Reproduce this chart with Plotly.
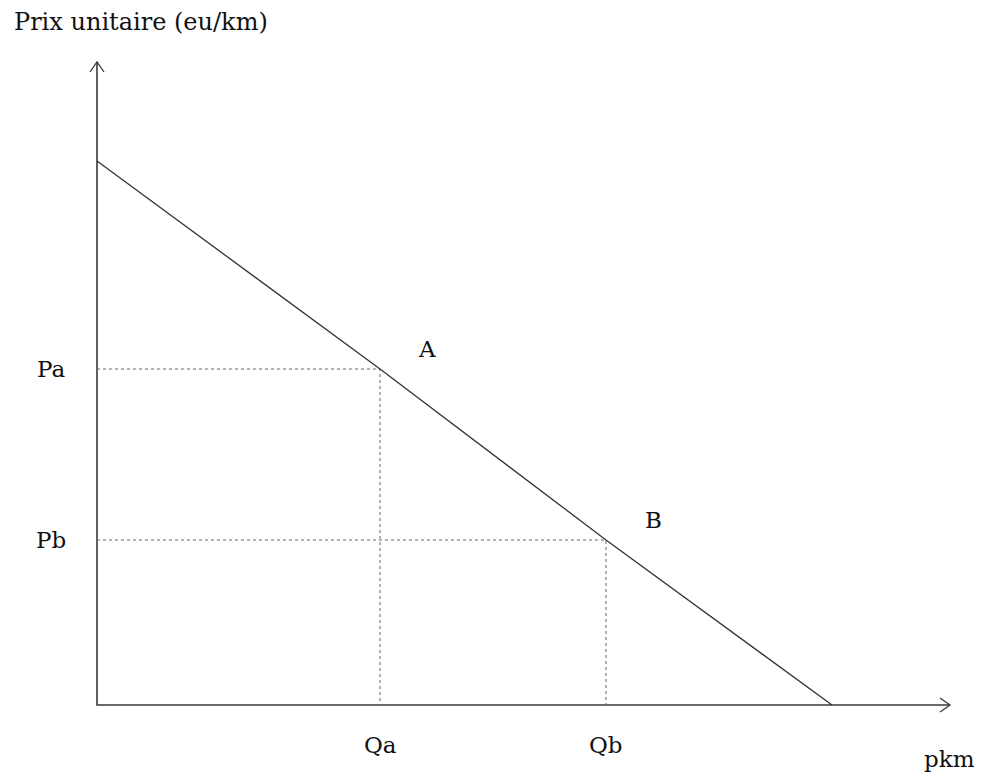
import plotly.graph_objects as go

# demand curve (schematic units: x = pkm, y = unit price)
demand_x = [0, 283, 509, 735]
demand_y = [544, 336, 165, 0]

point_names = ["A", "B"]
point_q = [283, 509]
point_p = [336, 165]
q_labels = ["Qa", "Qb"]
p_labels = ["Pa", "Pb"]

x_axis_end = 853
y_axis_end = 643

FONT = "DejaVu Serif"
AXIS_COLOR = "#3a3a3a"
LINE_COLOR = "#333333"
DOT_COLOR = "#666666"

fig = go.Figure()

# axes
fig.add_trace(go.Scatter(x=[0, 0, x_axis_end], y=[y_axis_end, 0, 0], mode="lines",
                         line=dict(color=AXIS_COLOR, width=1.6), hoverinfo="skip"))
# open arrowheads
ah_w, ah_l = 7, 10
fig.add_trace(go.Scatter(x=[-ah_w, 0, ah_w], y=[y_axis_end - ah_l, y_axis_end, y_axis_end - ah_l],
                         mode="lines", line=dict(color=AXIS_COLOR, width=1.3), hoverinfo="skip"))
fig.add_trace(go.Scatter(x=[x_axis_end - ah_l, x_axis_end, x_axis_end - ah_l], y=[ah_w, 0, -ah_w],
                         mode="lines", line=dict(color=AXIS_COLOR, width=1.3), hoverinfo="skip"))

# dotted guides
for q, p in zip(point_q, point_p):
    fig.add_trace(go.Scatter(x=[0, q, q], y=[p, p, 0], mode="lines",
                             line=dict(color=DOT_COLOR, width=1, dash="dot"), hoverinfo="skip"))

# demand line
fig.add_trace(go.Scatter(x=demand_x, y=demand_y, mode="lines",
                         line=dict(color=LINE_COLOR, width=1.3), hoverinfo="skip"))

txt = dict(showarrow=False, font=dict(family=FONT, size=23, color="#111111"))
for name, q, p, ql, pl in zip(point_names, point_q, point_p, q_labels, p_labels):
    fig.add_annotation(x=q, y=p, text=name, xshift=47, yshift=20, **txt)
    fig.add_annotation(x=0, y=p, text=pl, xshift=-46, **txt)
    fig.add_annotation(x=q, y=0, text=ql, yshift=-40, **txt)

fig.add_annotation(x=x_axis_end, y=0, text="pkm", xshift=-1, yshift=-54, **txt)
fig.add_annotation(x=0, y=y_axis_end, text="Prix unitaire (eu/km)", xshift=44, yshift=40,
                   **{**txt, "font": dict(family=FONT, size=24, color="#111111")})

# page body has an 8px margin, so the figure is sized and placed to compensate
fig.update_layout(
    width=976, height=766,
    margin=dict(l=0, r=0, t=0, b=0),
    plot_bgcolor="white", paper_bgcolor="white",
    showlegend=False,
    xaxis=dict(range=[-89, 887], visible=False, fixedrange=True),
    yaxis=dict(range=[-69, 697], visible=False, fixedrange=True),
)

fig.write_html("out.html")
